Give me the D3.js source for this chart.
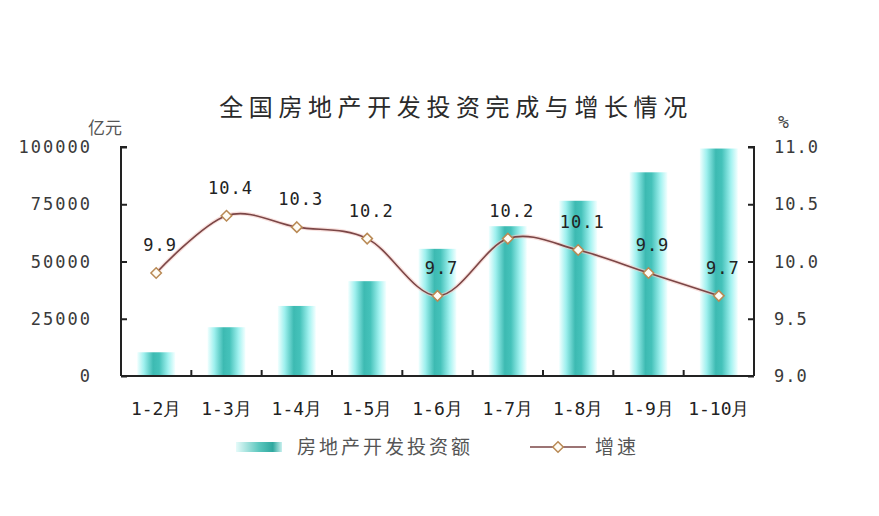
<html>
<head>
<meta charset="utf-8">
<script src="https://d3js.org/d3.v7.min.js"></script>
<style>
	body { margin: 0; background: #fff; }
	text { fill: #3a3a3a; }
	.num { font-family: "DejaVu Sans Mono", "Liberation Mono", monospace; }
	.cjk { font-family: "Noto Sans CJK SC", sans-serif; }
</style>
</head>
<body>
<svg id="chart" width="879" height="516"></svg>
<script>
	// chart data
	const months = ["1-2月", "1-3月", "1-4月", "1-5月", "1-6月", "1-7月", "1-8月", "1-9月", "1-10月"];
	const investment = [10357, 21291, 30592, 41406, 55531, 65410, 76519, 88948, 99325];
	const growth = [9.9, 10.4, 10.3, 10.2, 9.7, 10.2, 10.1, 9.9, 9.7];
	const leftTicks = [0, 25000, 50000, 75000, 100000];
	const rightTicks = [9.0, 9.5, 10.0, 10.5, 11.0];

	const svg = d3.select("#chart");
	const plotL = 121, plotR = 754, plotT = 147, plotB = 376;

	const x = d3.scaleBand().domain(months).range([plotL, plotR]);
	const yL = d3.scaleLinear().domain([0, 100000]).range([plotB, plotT]);
	const yR = d3.scaleLinear().domain([9, 11]).range([plotB, plotT]);

	// bar gradient
	const defs = svg.append("defs");
	const grad = defs.append("linearGradient").attr("id", "barGrad")
		.attr("x1", "0").attr("x2", "1").attr("y1", "0").attr("y2", "0");
	[["0%", "#f2ffff"], ["18%", "#9ef0ee"], ["42%", "#3dbab2"], ["58%", "#45c2ba"], ["82%", "#a3f2f0"], ["100%", "#f4ffff"]]
		.forEach(s => grad.append("stop").attr("offset", s[0]).attr("stop-color", s[1]));
	const lgrad = defs.append("linearGradient").attr("id", "legGrad")
		.attr("x1", "0").attr("x2", "1").attr("y1", "0").attr("y2", "0");
	[["0%", "#e6fbfa"], ["50%", "#5cc7be"], ["80%", "#2fa89f"], ["100%", "#c8f0ee"]]
		.forEach(s => lgrad.append("stop").attr("offset", s[0]).attr("stop-color", s[1]));

	// title
	svg.append("text").attr("class", "cjk")
		.attr("x", 456).attr("y", 116)
		.attr("text-anchor", "middle")
		.style("font-size", "24px").style("letter-spacing", "5.6px")
		.style("fill", "#2a2a2a")
		.text("全国房地产开发投资完成与增长情况");

	// unit labels
	svg.append("text").attr("class", "cjk").attr("x", 88).attr("y", 134)
		.style("font-size", "17px").style("fill", "#555").text("亿元");
	svg.append("text").attr("class", "num").attr("x", 778).attr("y", 128)
		.style("font-size", "18px").style("fill", "#444").text("%");

	// bars
	const bw = 38;
	svg.append("g").selectAll("rect").data(investment).enter().append("rect")
		.attr("x", (d, i) => x(months[i]) + x.bandwidth() / 2 - bw / 2)
		.attr("y", d => yL(d))
		.attr("width", bw)
		.attr("height", d => plotB - yL(d))
		.attr("fill", "url(#barGrad)");

	// axes
	const axL = svg.append("g").attr("transform", "translate(" + plotL + ",0)")
		.call(d3.axisRight(yL).tickValues(leftTicks).tickSize(6).tickFormat(""));
	const axR = svg.append("g").attr("transform", "translate(" + plotR + ",0)")
		.call(d3.axisLeft(yR).tickValues(rightTicks).tickSize(6).tickFormat(""));
	const axX = svg.append("g").attr("transform", "translate(0," + plotB + ")")
		.call(d3.axisTop(x).tickSize(0).tickFormat(""));
	[axL, axR, axX].forEach(g => {
		g.select(".domain").attr("stroke", "#222").attr("stroke-width", 2);
		g.selectAll(".tick line").attr("stroke", "#222").attr("stroke-width", 2);
	});
	axX.select(".domain").attr("d", "M" + plotL + ",0H" + plotR);
	axL.select(".domain").attr("d", "M6," + plotT + "H0V" + plotB);
	axR.select(".domain").attr("d", "M-6," + plotT + "H0V" + plotB);
	// category boundary ticks
	svg.append("g").selectAll("line").data(months.slice(1)).enter().append("line")
		.attr("x1", d => x(d)).attr("x2", d => x(d))
		.attr("y1", plotB).attr("y2", plotB - 6)
		.attr("stroke", "#222").attr("stroke-width", 2);

	// tick labels
	svg.append("g").selectAll("text").data(leftTicks).enter().append("text")
		.attr("class", "num")
		.attr("x", 92).attr("y", d => yL(d) + 6)
		.attr("text-anchor", "end")
		.style("font-size", "17px").style("letter-spacing", "2px")
		.text(d => d);
	svg.append("g").selectAll("text").data(rightTicks).enter().append("text")
		.attr("class", "num")
		.attr("x", 774).attr("y", d => yR(d) + 6)
		.style("font-size", "17px").style("letter-spacing", "1px")
		.text(d => d.toFixed(1));
	svg.append("g").selectAll("text").data(months).enter().append("text")
		.attr("class", "num")
		.attr("x", d => x(d) + x.bandwidth() / 2).attr("y", 415)
		.attr("text-anchor", "middle")
		.style("font-size", "18px").style("fill", "#222")
		.text(d => d);

	// growth line
	const cx = (d, i) => x(months[i]) + x.bandwidth() / 2;
	const line = d3.line().x(cx).y(d => yR(d)).curve(d3.curveCardinal.tension(0));
	svg.append("path").datum(growth).attr("d", line)
		.attr("fill", "none").attr("stroke", "#f3c9c4").attr("stroke-width", 4).attr("opacity", 0.6);
	svg.append("path").datum(growth).attr("d", line)
		.attr("fill", "none").attr("stroke", "#7b4646").attr("stroke-width", 1.6);

	const diamond = d3.symbol().type(d3.symbolDiamond2).size(70);
	svg.append("g").selectAll("path").data(growth).enter().append("path")
		.attr("d", diamond)
		.attr("transform", (d, i) => "translate(" + cx(d, i) + "," + yR(d) + ")")
		.attr("fill", "#fffdf6").attr("stroke", "#b98a55").attr("stroke-width", 1.5);

	svg.append("g").selectAll("text").data(growth).enter().append("text")
		.attr("class", "num")
		.attr("x", (d, i) => cx(d, i) + 4).attr("y", d => yR(d) - 22)
		.attr("text-anchor", "middle")
		.style("font-size", "17px").style("letter-spacing", "1px")
		.style("fill", "#222")
		.text(d => d.toFixed(1));

	// legend
	svg.append("rect").attr("x", 236).attr("y", 442).attr("width", 46).attr("height", 10)
		.attr("fill", "url(#legGrad)");
	svg.append("text").attr("class", "cjk").attr("x", 297).attr("y", 454)
		.style("font-size", "19px").style("letter-spacing", "3px").style("fill", "#555")
		.text("房地产开发投资额");
	svg.append("line").attr("x1", 530).attr("x2", 586).attr("y1", 447).attr("y2", 447)
		.attr("stroke", "#7b4646").attr("stroke-width", 1.6);
	svg.append("path").attr("d", diamond)
		.attr("transform", "translate(558,447)")
		.attr("fill", "#fffdf6").attr("stroke", "#b98a55").attr("stroke-width", 1.5);
	svg.append("text").attr("class", "cjk").attr("x", 595).attr("y", 454)
		.style("font-size", "19px").style("letter-spacing", "3px").style("fill", "#555")
		.text("增速");
</script>
</body>
</html>
